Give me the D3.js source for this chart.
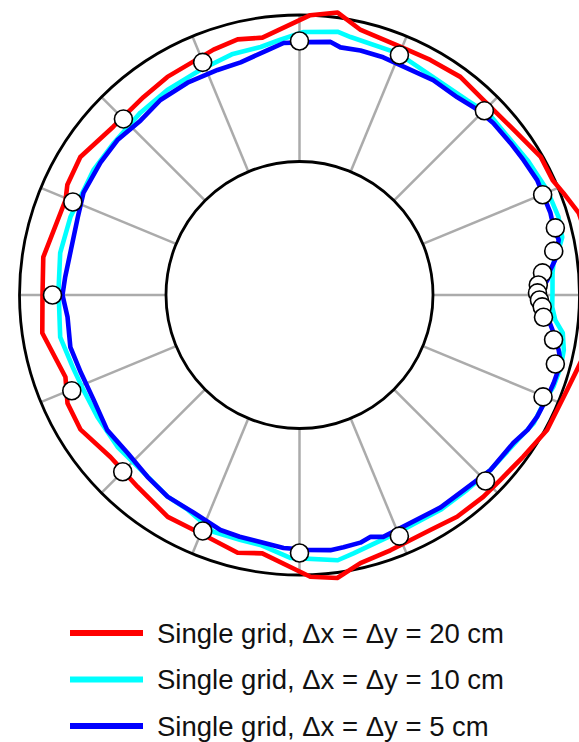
<!DOCTYPE html>
<html>
<head>
<meta charset="utf-8">
<script src="https://cdn.jsdelivr.net/npm/d3@7/dist/d3.min.js"></script>
<style>
  html, body { margin: 0; padding: 0; background: #fff; overflow: hidden; }
  svg { display: block; }
</style>
</head>
<body>
<svg id="chart" width="579" height="742"></svg>
<script>
// ---- Data (angle in degrees, counter-clockwise from +x; radius in chart units) ----
const innerRadius = 1.335;
const outerRadius = 2.80;
const spokeAngles = [0, 22.5, 45, 67.5, 90, 112.5, 135, 157.5, 180, 202.5, 225, 247.5, 270, 292.5, 315, 337.5];

const redTheta = [-171.6, -160.7, -155, -148.4, -139.4, -130.2, -120.7, -112.6, -103.5, -98.2, -87.8, -82.4, -77.2, -70.4, -60.9, -54.6, -47.7, -42.6, -35.9, -28.6, -19.5, -14.5, -7.5, 0, 7.5, 16.4, 21.1, 24.4, 29.8, 38.5, 46.7, 53.6, 60.9, 67.8, 77, 82.3, 87.8, 98.2, 103.6, 109.3, 121.2, 128.2, 137.9, 147.8, 154.6, 157.9, 171.6, 180];
const redR     = [2.60, 2.48, 2.56, 2.57, 2.49, 2.51, 2.58, 2.58, 2.65, 2.61, 2.82, 2.855, 2.75, 2.71, 2.69, 2.72, 2.73, 2.73, 2.76, 2.82, 2.84, 2.88, 2.97, 3.00, 2.97, 2.91, 2.83, 2.78, 2.78, 2.70, 2.68, 2.71, 2.69, 2.68, 2.72, 2.85, 2.80, 2.60, 2.63, 2.60, 2.55, 2.52, 2.51, 2.59, 2.57, 2.525, 2.59, 2.57];

const cyanTheta = [-170, -162.4, -156.3, -148.9, -140.1, -132.3, -123.2, -117.5, -110, -103.5, -98.9, -92, -81.8, -78.2, -67.6, -56.7, -49.3, -42.5, -33.6, -28.7, -23.9, -19.9, -15.4, -11.8, -8.2, -5.6, -2.7, 0.5, 5, 7.2, 9.9, 12.4, 16.8, 22.9, 30.3, 43.6, 49.3, 67.9, 78.8, 81.8, 89.1, 94.3, 98.9, 105.7, 113.7, 122.8, 131.1, 140.7, 148.8, 155.9, 161.2, 170, 178.8];
const cyanR     = [2.43, 2.38, 2.36, 2.36, 2.37, 2.36, 2.41, 2.42, 2.52, 2.52, 2.53, 2.63, 2.68, 2.64, 2.57, 2.57, 2.57, 2.59, 2.62, 2.67, 2.67, 2.70, 2.71, 2.70, 2.66, 2.57, 2.53, 2.53, 2.54, 2.56, 2.63, 2.69, 2.705, 2.69, 2.65, 2.62, 2.57, 2.61, 2.63, 2.66, 2.63, 2.56, 2.51, 2.50, 2.46, 2.44, 2.42, 2.40, 2.41, 2.40, 2.42, 2.43, 2.41];

const blueTheta = [-174.6, -167.2, -160.4, -153, -144.9, -137.4, -129.9, -123.2, -116, -108.6, -103.9, -99, -93.6, -88.2, -83.1, -80.1, -76.2, -73.6, -70.9, -56.4, -50, -42.5, -34.7, -30.6, -27.1, -22.4, -19.1, -14.6, -12, -8.5, -5.1, -1.9, 0, 1.2, 3.5, 5.7, 7.8, 12, 15, 18.1, 25.8, 31.1, 35.8, 41.6, 46.1, 51.4, 58.1, 70.6, 76, 80.6, 83, 88.2, 93.6, 97.4, 104.2, 110, 117.8, 125.5, 132.3, 139.6, 146.4, 154.7, 160.6, 168.9, 175.6, 180];
const blueR     = [2.33, 2.35, 2.32, 2.31, 2.35, 2.335, 2.37, 2.41, 2.42, 2.48, 2.49, 2.50, 2.535, 2.55, 2.57, 2.56, 2.55, 2.52, 2.56, 2.55, 2.55, 2.59, 2.60, 2.65, 2.67, 2.68, 2.69, 2.70, 2.65, 2.57, 2.49, 2.44, 2.43, 2.42, 2.485, 2.52, 2.58, 2.65, 2.63, 2.64, 2.64, 2.615, 2.60, 2.59, 2.57, 2.53, 2.53, 2.52, 2.52, 2.51, 2.55, 2.53, 2.525, 2.47, 2.40, 2.395, 2.40, 2.395, 2.36, 2.39, 2.39, 2.39, 2.35, 2.33, 2.35, 2.37];

const markerTheta = [90, 67.4, 44.9, 22.4, 14.7, 9.8, 5.2, 2.4, 0.5, -1.2, -2.8, -5.2, -10, -15.1, -22.7, -45, -67.5, -90, -112.3, -135, -157.2, 180, 157.7, 135, 112.6];
const markerR     = [2.54, 2.60, 2.61, 2.63, 2.645, 2.58, 2.44, 2.39, 2.38, 2.40, 2.43, 2.45, 2.58, 2.65, 2.64, 2.63, 2.61, 2.58, 2.55, 2.50, 2.47, 2.47, 2.45, 2.49, 2.52];

const seriesNames  = ["Single grid, \u0394x = \u0394y = 20 cm", "Single grid, \u0394x = \u0394y = 10 cm", "Single grid, \u0394x = \u0394y = 5 cm"];
const seriesColors = ["#ff0000", "#00ffff", "#0000ff"];

// ---- Layout ----
const cx = 299.5, cy = 295;
const svg = d3.select("#chart");
const r = d3.scaleLinear().domain([0, outerRadius]).range([0, 280]);
const toRad = d => (90 - d) * Math.PI / 180; // d3 radial angle: clockwise from 12 o'clock

const g = svg.append("g").attr("transform", `translate(${cx},${cy})`);

// spokes
g.selectAll("line.spoke").data(spokeAngles).join("line")
  .attr("class", "spoke")
  .attr("x1", d => r(innerRadius) * Math.cos(d * Math.PI / 180))
  .attr("y1", d => -r(innerRadius) * Math.sin(d * Math.PI / 180))
  .attr("x2", d => r(outerRadius) * Math.cos(d * Math.PI / 180))
  .attr("y2", d => -r(outerRadius) * Math.sin(d * Math.PI / 180))
  .attr("stroke", "#ababab").attr("stroke-width", 2.5);

// circles
[innerRadius, outerRadius].forEach(v => {
  g.append("circle").attr("r", r(v)).attr("fill", "none")
    .attr("stroke", "#000").attr("stroke-width", 2.8);
});

// series lines
const line = d3.lineRadial()
  .angle(d => toRad(d[0]))
  .radius(d => r(d[1]))
  .curve(d3.curveLinearClosed);

const series = [
  d3.zip(redTheta, redR),
  d3.zip(cyanTheta, cyanR),
  d3.zip(blueTheta, blueR)
];
series.forEach((pts, i) => {
  g.append("path").attr("d", line(pts)).attr("fill", "none")
    .attr("stroke", seriesColors[i]).attr("stroke-width", 4.6)
    .attr("stroke-linejoin", "round");
});

// markers
g.selectAll("circle.mk").data(d3.zip(markerTheta, markerR)).join("circle")
  .attr("class", "mk")
  .attr("cx", d => r(d[1]) * Math.cos(d[0] * Math.PI / 180))
  .attr("cy", d => -r(d[1]) * Math.sin(d[0] * Math.PI / 180))
  .attr("r", 9)
  .attr("fill", "#fff").attr("stroke", "#000").attr("stroke-width", 1.6);

// legend
const lg = svg.append("g");
seriesNames.forEach((name, i) => {
  const y = 633 + i * 46.5;
  lg.append("line").attr("x1", 70).attr("x2", 143).attr("y1", y).attr("y2", y)
    .attr("stroke", seriesColors[i]).attr("stroke-width", 6);
  lg.append("text").attr("x", 157).attr("y", y + 9.5)
    .attr("font-family", "'Liberation Sans', Arial, Helvetica, sans-serif")
    .attr("font-size", 27.5).attr("fill", "#111").text(name);
});
</script>
</body>
</html>
